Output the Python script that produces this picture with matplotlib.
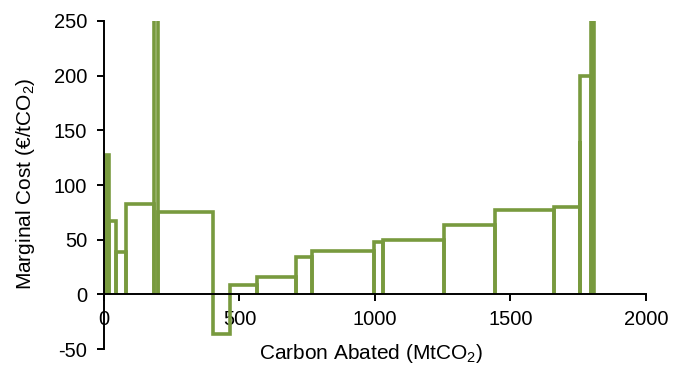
import matplotlib.pyplot as plt

plt.rcParams['font.family'] = ['Liberation Sans', 'DejaVu Sans']
plt.rcParams['mathtext.fontset'] = 'custom'
plt.rcParams['mathtext.rm'] = 'Liberation Sans'
plt.rcParams['mathtext.it'] = 'Liberation Sans'
plt.rcParams['axes.unicode_minus'] = False

# Medidas: inicio y fin de abatimiento (MtCO2) y coste marginal (€/tCO2)
inicio = [6, 18, 44, 82, 186, 199, 401, 466, 564, 708, 767, 998, 1028, 1255, 1442, 1660, 1756, 1758, 1798]
fin = [18, 44, 82, 186, 199, 401, 466, 564, 708, 767, 998, 1028, 1255, 1442, 1660, 1756, 1758, 1798, 1808]
coste = [127, 67, 39, 83, 500, 75, -36, 9, 16, 34, 40, 48, 50, 63, 77, 80, 140, 200, 500]

verde = '#789A3E'

fig = plt.figure(figsize=(6.81, 3.65), dpi=100)
ax = fig.add_axes([0.1527, 0.0438, 0.7959, 0.8987])

for x0, x1, c in zip(inicio, fin, coste):
    ax.plot([x0, x0, x1, x1], [0, c, c, 0], color=verde, lw=2.6,
            solid_joinstyle='miter', solid_capstyle='butt', zorder=2)

ax.set_xlim(0, 2000)
ax.set_ylim(-50, 250)
ax.set_xticks([0, 500, 1000, 1500, 2000])
ax.set_yticks(range(-50, 251, 50))

ax.spines['top'].set_visible(False)
ax.spines['right'].set_visible(False)
ax.spines['bottom'].set_position(('data', 0))
for s in ('left', 'bottom'):
    ax.spines[s].set_linewidth(1.4)
    ax.spines[s].set_zorder(3)

ax.tick_params(axis='both', direction='out', length=5, width=1.4, labelsize=14.5)
ax.tick_params(axis='x', pad=6)
ax.tick_params(axis='y', pad=7)

ax.set_xlabel('Carbon Abated (MtCO$_2$)', fontsize=15)
ax.set_ylabel('Marginal Cost (€/tCO$_2$)', fontsize=15)
ax.xaxis.set_label_coords(0.4935, 0.02)
ax.yaxis.set_label_coords(-0.124, 0.505)

fig.savefig('out.png', dpi=100)
